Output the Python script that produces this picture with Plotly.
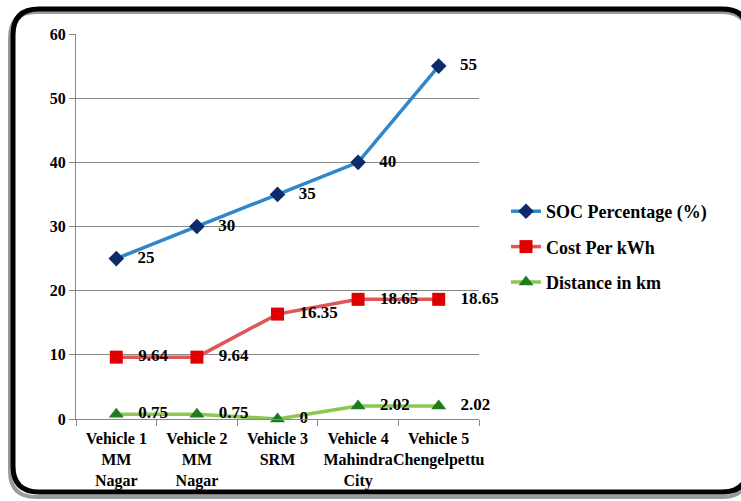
import plotly.graph_objects as go

categories = ["Vehicle 1<br>MM<br>Nagar", "Vehicle 2<br>MM<br>Nagar", "Vehicle 3<br>SRM",
              "Vehicle 4<br>Mahindra<br>City", "Vehicle 5<br>Chengelpettu"]
soc = [25, 30, 35, 40, 55]
cost = [9.64, 9.64, 16.35, 18.65, 18.65]
distance = [0.75, 0.75, 0, 2.02, 2.02]
y_ticks = [0, 10, 20, 30, 40, 50, 60]

W, H = 741, 501
L, R, T, B = 76, 262, 34, 82
PW, PH = W - L - R, H - T - B

def px(x):
    return (x - L) / PW

def py(y):
    return (H - B - y) / PH

FONT = "Liberation Serif"
lab_font = dict(family=FONT, size=17, color="black", weight="bold")

fig = go.Figure()

def fmt(v):
    return f"{v:g}"

specs = [
    ("SOC Percentage (%)", soc, "#2E86CC", "diamond", 12, "#0D2A6B"),
    ("Cost Per kWh", cost, "#E05555", "square", 13, "#E00000"),
    ("Distance in km", distance, "#8CC653", "triangle-up", 13, "#1E7B1E"),
]
for i, (name, vals, lc, sym, ms, mc) in enumerate(specs):
    fig.add_trace(go.Scatter(
        x=categories, y=vals, name=name, mode="lines+markers+text",
        legendgroup=f"g{i}",
        line=dict(color=lc, width=3.5),
        marker=dict(symbol=sym, size=ms, color=mc),
        text=["   " + fmt(v) for v in vals], textposition="middle right", textfont=lab_font,
        cliponaxis=False,
    ))

# rounded border with shadow
def rounded(x0, y0, x1, y1, r):
    X = lambda v: px(v)
    Y = lambda v: py(v)
    return (f"M {X(x0+r)},{Y(y0)} L {X(x1-r)},{Y(y0)} Q {X(x1)},{Y(y0)} {X(x1)},{Y(y0+r)} "
            f"L {X(x1)},{Y(y1-r)} Q {X(x1)},{Y(y1)} {X(x1-r)},{Y(y1)} "
            f"L {X(x0+r)},{Y(y1)} Q {X(x0)},{Y(y1)} {X(x0)},{Y(y1-r)} "
            f"L {X(x0)},{Y(y0+r)} Q {X(x0)},{Y(y0)} {X(x0+r)},{Y(y0)} Z")

shapes = [
    dict(type="path", xref="paper", yref="paper", path=rounded(10, 12, 748, 497, 26),
         line=dict(color="#9A9A9A", width=4), layer="below"),
    dict(type="path", xref="paper", yref="paper", path=rounded(13, 9, 748, 492, 26),
         line=dict(color="black", width=5), layer="below"),
]

fig.update_layout(
    width=W, height=H,
    margin=dict(l=L, r=R, t=T, b=B, autoexpand=False),
    paper_bgcolor="white", plot_bgcolor="white",
    font=dict(family=FONT, size=16, color="black", weight="bold"),
    showlegend=True,
    legend=dict(x=px(506), y=py(247), xanchor="left", yanchor="middle",
                font=dict(family=FONT, size=18, color="black", weight="bold"),
                bgcolor="rgba(0,0,0,0)", tracegroupgap=9, itemwidth=30),
    shapes=shapes,
    xaxis=dict(showgrid=False, showline=True, linecolor="#888888", linewidth=1,
               ticks="outside", ticklen=6, tickcolor="#888888", tickson="boundaries",
               tickangle=0, automargin=False, ticklabelstandoff=5,
               tickfont=dict(family=FONT, size=16, color="black", weight="bold"),
               range=[-0.5, 4.5], fixedrange=True),
    yaxis=dict(range=[0, 60], tickvals=y_ticks, showgrid=True, gridcolor="#888888", gridwidth=1,
               showline=True, linecolor="#888888", linewidth=1, ticks="outside", ticklen=6,
               tickcolor="#888888", zeroline=False, automargin=False,
               tickfont=dict(family=FONT, size=16, color="black", weight="bold"), fixedrange=True),
)

fig.write_html("out.html")
